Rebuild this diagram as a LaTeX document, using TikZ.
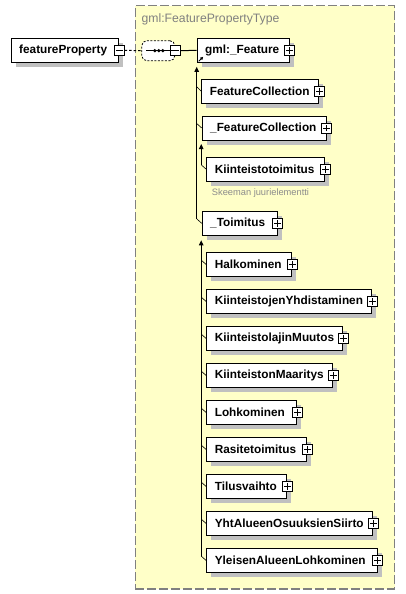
\documentclass[tikz,border=0pt]{standalone}
\usepackage{fontspec}
\setmainfont{Liberation Sans}
\usetikzlibrary{arrows.meta,calc}

\definecolor{groupyellow}{HTML}{FFFFC8}
\definecolor{groupline}{HTML}{808080}
\definecolor{shadowgray}{HTML}{C0C0C0}
\definecolor{notegray}{HTML}{8C8C8C}

\tikzset{
  elem/.style={draw, fill=white, line width=1pt, anchor=west, text width=#1,
    minimum height=24pt, inner xsep=8pt, inner ysep=0pt, align=left,
    font=\bfseries\fontsize{11.8}{13}\selectfont,
    preaction={fill=shadowgray, transform canvas={xshift=4.5pt, yshift=-4.5pt}}},
  pmbox/.style={draw, fill=white, line width=0.8pt, minimum size=10pt, inner sep=0pt},
  plusbox/.style={pmbox, path picture={
    \draw[line width=0.8pt] ([xshift=1.7pt]path picture bounding box.west) -- ([xshift=-1.7pt]path picture bounding box.east)
      ([yshift=1.7pt]path picture bounding box.south) -- ([yshift=-1.7pt]path picture bounding box.north);}},
  minusbox/.style={pmbox, path picture={
    \draw[line width=0.8pt] ([xshift=1.7pt]path picture bounding box.west) -- ([xshift=-1.7pt]path picture bounding box.east);}},
  seqbox/.style={draw, fill=white, line width=0.8pt, dash pattern=on 2pt off 1.5pt,
    rounded corners=5pt, minimum width=33pt, minimum height=20pt, inner sep=0pt},
  groupbox/.style={draw=groupline, fill=groupyellow, line width=1.2pt, dash pattern=on 9pt off 3pt,
    inner sep=0pt, anchor=north west},
  grouptitle/.style={text=groupline, anchor=west, inner sep=0pt, font=\fontsize{12.2}{14}\selectfont},
  note/.style={text=notegray, anchor=west, inner sep=0pt, font=\fontsize{9.3}{11}\selectfont},
  link/.style={line width=1pt},
  dashlink/.style={line width=1pt, dash pattern=on 2.5pt off 2pt},
  child/.style={line width=0.6pt},
  up/.style={line width=1pt, -{Triangle[width=4.5pt,length=5pt]}},
  refarrow/.style={line width=0.8pt, -{Triangle[width=3pt,length=3pt]}}
}

\begin{document}
\begin{tikzpicture}[x=1pt,y=-1pt]
\useasboundingbox (0,0) rectangle (405,594);

% complex type group
\node[groupbox, minimum width=259.3pt, minimum height=583pt] (group) at (134.7,5.3) {};
\node[grouptitle] (title) at (141.5,19.5) {gml:FeaturePropertyType};

% element and sequence
\node[elem=91.6pt] (fprop) at (10.7,50.3) {featureProperty};
\node[minusbox] (fprop-m) at (fprop.east) {};
\node[seqbox] (seq) at (158.3,50.7) {};
\node[minusbox] (seq-m) at (seq.east) {};
\draw[dashlink] (fprop-m.east) -- (seq.west);
\draw[link] ($(seq.west)+(5,0)$) -- ($(seq.east)+(-2,0)$);
\foreach \dx in {-3.5,0.5,4.5}
  \fill ($(seq.center)+(\dx,0)$) circle (1.8);

% substitution group
\node[elem=76pt] (gmlF) at (196.7,50.3) {gml:\_Feature};
\draw[link] (seq-m.east) -- (gmlF.west);
\draw[refarrow] ($(gmlF.south west)+(2,-1.5)$) -- ++(4.5,-4.5);

\node[elem=101pt] (fc) at (201.3,91.3) {FeatureCollection};
\node[elem=108pt] (afc) at (201.7,128) {\_FeatureCollection};
\node[elem=102pt] (kt) at (206.3,169.3) {Kiinteistotoimitus};
\node[note] (kt-note) at (211.7,193.5) {Skeeman juurielementti};
\node[elem=59pt] (toim) at (201.7,223.3) {\_Toimitus};

\foreach \n/\w/\t [count=\i] in {halk/69pt/Halkominen, yhd/149pt/KiinteistojenYhdistaminen,
    lajm/120pt/KiinteistolajinMuutos, maar/110pt/KiinteistonMaaritys, lohk/74pt/Lohkominen,
    rasi/84pt/Rasitetoimitus, tilu/64pt/Tilusvaihto, yht/150pt/YhtAlueenOsuuksienSiirto,
    ylei/154.4pt/YleisenAlueenLohkominen}
  \node[elem=\w] (\n) at (206.3,{264.6+37*(\i-1)}) {\t};

\foreach \n in {gmlF,fc,afc,kt,toim,halk,yhd,lajm,maar,lohk,rasi,tilu,yht,ylei}
  \node[plusbox] (\n-p) at (\n.east) {};

% tree lines
\coordinate (hubA) at ($(gmlF.south west)+(0,4)$);
\draw[up] ($(hubA |- toim.west)+(0,-4.5)$) -- (hubA);
\foreach \c in {fc,afc,toim}
  \draw[child] ($(hubA |- \c.west)+(0,-4.5)$) -- (\c.west);

\coordinate (hubB) at ($(afc.south west)+(-0.5,3.5)$);
\draw[up] ($(hubB |- kt.west)+(0,-4.5)$) -- (hubB);
\draw[child] ($(hubB |- kt.west)+(0,-4.5)$) -- (kt.west);

\coordinate (hubC) at ($(toim.south west)+(-0.5,4.5)$);
\draw[up] ($(hubC |- ylei.west)+(0,-4.5)$) -- (hubC);
\foreach \c in {halk,yhd,lajm,maar,lohk,rasi,tilu,yht,ylei}
  \draw[child] ($(hubC |- \c.west)+(0,-4.5)$) -- (\c.west);
\end{tikzpicture}
\end{document}
